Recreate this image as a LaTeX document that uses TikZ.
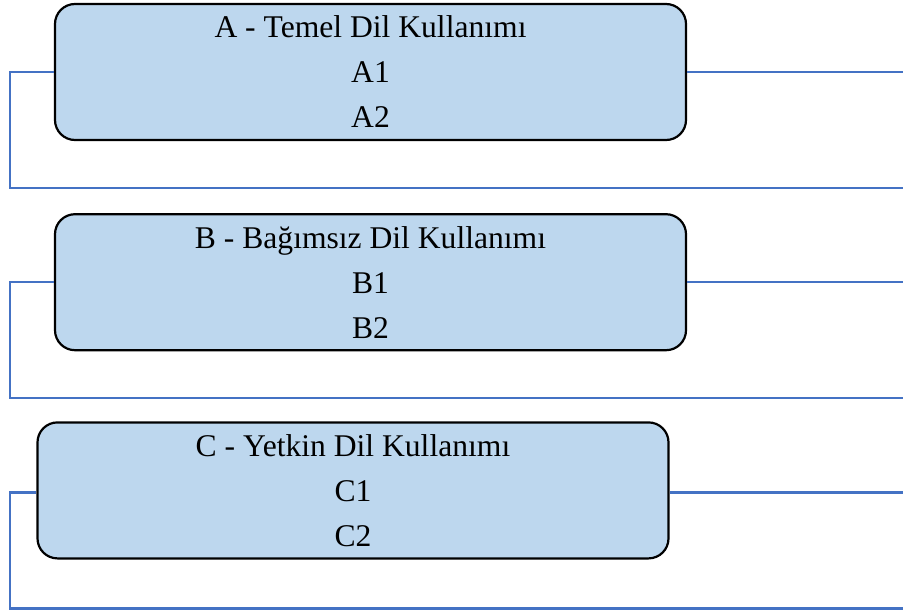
\documentclass[tikz,border=0pt]{standalone}
\usepackage{fontspec}
\setmainfont{Liberation Serif}
\usepackage{xcolor}
\usepackage{tikz}
\usetikzlibrary{positioning,calc}

\definecolor{boxfill}{HTML}{BDD7EE}
\definecolor{railblue}{HTML}{4472C4}

\begin{document}
\begin{tikzpicture}[x=0.5pt, y=-0.5pt,
    levelbox/.style={rectangle, rounded corners=10pt, draw=black, line width=1.1pt, fill=boxfill,
        minimum width=315.5pt, minimum height=68pt, inner sep=0pt, align=center,
        font=\fontsize{15.8pt}{22.5pt}\selectfont},
    bracket/.style={draw=railblue, line width=1.1pt}]

    \useasboundingbox (0,0) rectangle (903,615);

    % Rails
    \coordinate (leftrail) at (10,0);
    \coordinate (rightrail) at (903,0);

    % Levels
    \node[levelbox] (a) at (370.5,72) {A - Temel Dil Kullanımı\\A1\\A2};
    \node[levelbox, below=36pt of a] (b) {B - Bağımsız Dil Kullanımı\\B1\\B2};
    \node[levelbox, below=35pt of b, xshift=-8.75pt] (c) {C - Yetkin Dil Kullanımı\\C1\\C2};

    % Brackets
    \draw[bracket] (a.west) -| ([yshift=-58pt]a.west -| leftrail) -- ([yshift=-58pt]a.west -| rightrail);
    \draw[bracket] (a.east) -- (a.east -| rightrail);
    \draw[bracket] (b.west) -| ([yshift=-58pt]b.west -| leftrail) -- ([yshift=-58pt]b.west -| rightrail);
    \draw[bracket] (b.east) -- (b.east -| rightrail);
    \draw[bracket] ([yshift=-1pt]c.west) -| ([yshift=-59pt]c.west -| leftrail) -- ([yshift=-59pt]c.west -| rightrail);
    \draw[bracket] ([yshift=-1pt]c.east) -- ([yshift=-1pt]c.east -| rightrail);

\end{tikzpicture}
\end{document}
